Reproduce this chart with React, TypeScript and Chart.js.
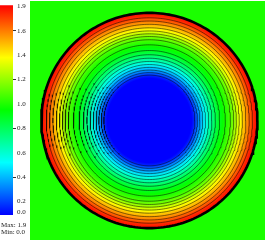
import React, { useEffect, useRef } from "react";
import { Chart, registerables } from "chart.js";

Chart.register(...registerables);

// ---- data ----
const valueMin = 0.0;
const valueMax = 1.9;
const backgroundValue = 1.0;

// radial profile of the field (normalized radius -> value)
const profileRadius = [0, 0.39, 0.41, 0.44, 0.48, 0.52, 0.56, 0.6, 0.64, 0.68, 0.72, 0.75, 0.78, 0.81, 0.84, 0.87, 0.9, 0.93, 0.96, 1.0];
const profileValue = [0.0, 0.0, 0.05, 0.18, 0.35, 0.5, 0.64, 0.77, 0.88, 0.96, 1.03, 1.1, 1.2, 1.32, 1.43, 1.53, 1.62, 1.72, 1.82, 1.9];

const contourLevels = [0.1, 0.2, 0.3, 0.4, 0.5, 0.6, 0.7, 0.8, 0.9, 1.0, 1.1, 1.2, 1.3, 1.4, 1.5, 1.6, 1.7, 1.8];
const boundaryRadius = 1.0;

const colorbarTicks = [0.0, 0.2, 0.4, 0.6, 0.8, 1.0, 1.2, 1.4, 1.6, 1.9];
const colorbarTickLabels = ["0.0", "0.2", "0.4", "0.6", "0.8", "1.0", "1.2", "1.4", "1.6", "1.9"];
const colorbarMajorTicks = [0.4, 0.8, 1.2, 1.6];
const colorbarVisibleRange = [0.09, 1.81];
const legendLines = ["Max: 1.9", "Min: 0.0"];

// "hot" colour table: blue -> cyan -> green -> yellow -> red
const colorStops: [number, number[]][] = [
  [0, [0, 0, 255]],
  [0.25, [0, 255, 255]],
  [0.5, [0, 255, 0]],
  [0.75, [255, 255, 0]],
  [1, [255, 0, 0]],
];

function colormap(v: number): string {
  let t = (v - valueMin) / (valueMax - valueMin);
  t = Math.max(0, Math.min(1, t));
  for (let i = 0; i < colorStops.length - 1; i++) {
    const [t0, c0] = colorStops[i];
    const [t1, c1] = colorStops[i + 1];
    if (t <= t1) {
      const f = (t - t0) / (t1 - t0);
      const c = c0.map((a, k) => Math.round(a + (c1[k] - a) * f));
      return `rgb(${c[0]},${c[1]},${c[2]})`;
    }
  }
  const c = colorStops[colorStops.length - 1][1];
  return `rgb(${c[0]},${c[1]},${c[2]})`;
}

function radiusForLevel(level: number): number | null {
  for (let i = 0; i < profileValue.length - 1; i++) {
    const v0 = profileValue[i];
    const v1 = profileValue[i + 1];
    if (level >= v0 && level < v1 && v1 > v0) {
      return profileRadius[i] + ((level - v0) / (v1 - v0)) * (profileRadius[i + 1] - profileRadius[i]);
    }
  }
  return null;
}

function circle(r: number) {
  const pts: { x: number; y: number }[] = [];
  const n = 240;
  for (let i = 0; i <= n; i++) {
    const a = (i / n) * Math.PI * 2;
    pts.push({ x: r * Math.cos(a), y: r * Math.sin(a) });
  }
  return pts;
}

const serif = "'Liberation Serif', 'DejaVu Serif', serif";

export default function App() {
  const barRef = useRef<HTMLCanvasElement>(null);
  const plotRef = useRef<HTMLCanvasElement>(null);

  useEffect(() => {
    // ---- main pseudocolor plot ----
    const bgPlugin = {
      id: "fieldBackground",
      beforeDraw(chart: any) {
        const { ctx, chartArea } = chart;
        ctx.save();
        ctx.fillStyle = colormap(backgroundValue);
        ctx.fillRect(chartArea.left, chartArea.top, chartArea.right - chartArea.left, chartArea.bottom - chartArea.top);
        ctx.restore();
      },
    };

    const diskFill = (context: any) => {
      const chart = context.chart;
      if (!chart.chartArea) return "transparent";
      const xs = chart.scales.x;
      const ys = chart.scales.y;
      const cx = xs.getPixelForValue(0);
      const cy = ys.getPixelForValue(0);
      const R = xs.getPixelForValue(boundaryRadius) - cx;
      const g = chart.ctx.createRadialGradient(cx, cy, 0, cx, cy, R);
      profileRadius.forEach((r, i) => g.addColorStop(r / boundaryRadius, colormap(profileValue[i])));
      return g;
    };

    const datasets: any[] = [
      {
        data: circle(boundaryRadius),
        fill: "shape",
        backgroundColor: diskFill,
        borderWidth: 0,
        pointRadius: 0,
        order: 10,
      },
    ];
    contourLevels.forEach((lv) => {
      const r = radiusForLevel(lv);
      if (r == null) return;
      datasets.push({
        data: circle(r),
        fill: false,
        borderColor: "rgba(0,0,0,0.5)",
        borderWidth: 1,
        pointRadius: 0,
        order: 5,
      });
    });
    datasets.push({
      data: circle(boundaryRadius),
      fill: false,
      borderColor: "#000",
      borderWidth: 2.6,
      pointRadius: 0,
      order: 1,
    });

    const plot = new Chart(plotRef.current!, {
      type: "line",
      data: { datasets },
      options: {
        animation: false,
        responsive: false,
        devicePixelRatio: 1,
        layout: { padding: 0 },
        elements: { line: { tension: 0 } },
        plugins: { legend: { display: false }, tooltip: { enabled: false } },
        scales: {
          x: { type: "linear", min: -1.105, max: 1.07, display: false },
          y: { type: "linear", min: -1.11, max: 1.11, display: false },
        },
      },
      plugins: [bgPlugin],
    } as any);

    // ---- colour bar ----
    const [vmin, vmax] = colorbarVisibleRange;
    const clampTick = (v: number) => Math.max(vmin + 0.02, Math.min(vmax - 0.01, v));
    const barFill = (context: any) => {
      const chart = context.chart;
      const area = chart.chartArea;
      if (!area) return "transparent";
      const g = chart.ctx.createLinearGradient(0, area.bottom, 0, area.top);
      colorStops.forEach(([t]) => g.addColorStop(t, colormap(valueMin + t * (valueMax - valueMin))));
      return g;
    };

    const bar = new Chart(barRef.current!, {
      type: "bar",
      data: {
        labels: [""],
        datasets: [
          {
            data: [[vmin, vmax]],
            backgroundColor: barFill,
            borderWidth: 0,
            barPercentage: 1,
            categoryPercentage: 1,
          },
        ],
      },
      options: {
        animation: false,
        responsive: false,
        devicePixelRatio: 1,
        layout: { padding: { top: 2, bottom: 27, left: 0, right: 0 } },
        plugins: { legend: { display: false }, tooltip: { enabled: false } },
        scales: {
          x: { display: false },
          y: {
            position: "right",
            min: vmin,
            max: vmax,
            afterFit: (s: any) => {
              s.width = 17;
            },
            afterBuildTicks: (s: any) => {
              s.ticks = colorbarTicks.map((v) => ({ value: clampTick(v) }));
            },
            border: { display: false },
            grid: {
              drawOnChartArea: false,
              drawTicks: true,
              tickLength: 3,
              tickWidth: 1,
              tickColor: (ctx: any) =>
                colorbarMajorTicks.includes(colorbarTicks[ctx.index]) ? "#333" : "rgba(0,0,0,0)",
            },
            ticks: {
              autoSkip: false,
              padding: 1,
              color: "#222",
              font: { family: serif, size: 7 },
              callback: (_v: any, i: number) => colorbarTickLabels[i],
            },
          },
        },
      },
    } as any);

    return () => {
      plot.destroy();
      bar.destroy();
    };
  }, []);

  return (
    <div style={{ position: "absolute", left: 0, top: 0, width: 266, height: 242, overflow: "hidden", background: "#fff" }}>
      <canvas ref={barRef} width={30} height={242} style={{ position: "absolute", left: 0, top: 0, width: 30, height: 242 }} />
      <canvas ref={plotRef} width={235} height={239} style={{ position: "absolute", left: 30, top: 1, width: 235, height: 239 }} />
      {legendLines.map((t, i) => (
        <div
          key={t}
          style={{
            position: "absolute",
            left: 1,
            top: 222 + i * 7,
            fontFamily: serif,
            fontSize: 7,
            lineHeight: "7px",
            color: "#222",
            whiteSpace: "nowrap",
          }}
        >
          {t}
        </div>
      ))}
    </div>
  );
}
